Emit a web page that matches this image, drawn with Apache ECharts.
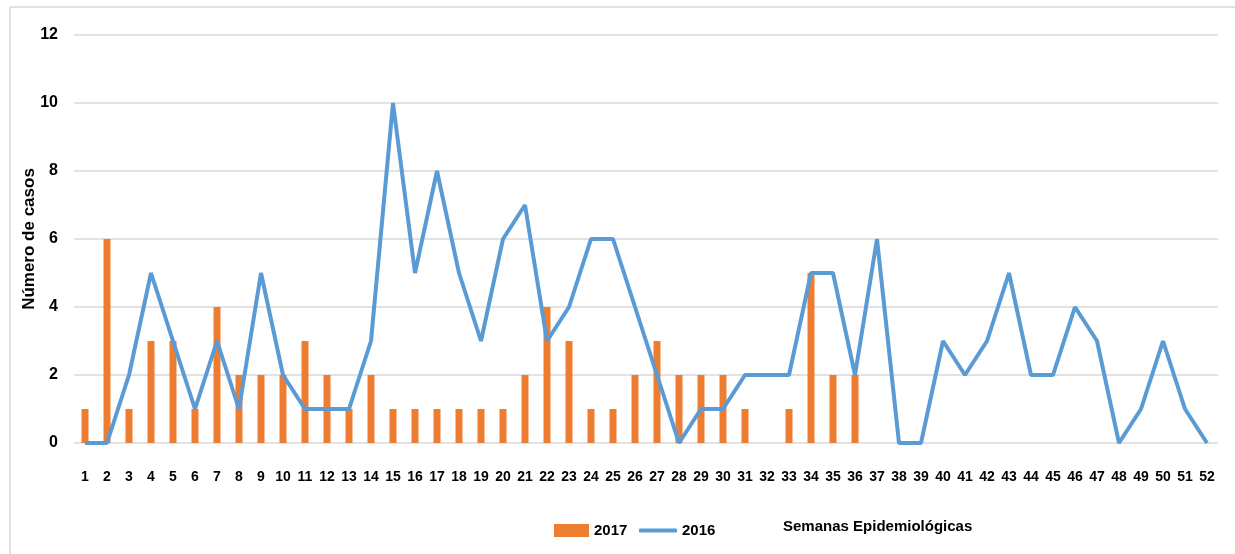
<!DOCTYPE html>
<html>
<head>
<meta charset="utf-8">
<script src="https://cdn.jsdelivr.net/npm/echarts@6/dist/echarts.min.js"></script>
<style>
  html, body { margin: 0; padding: 0; background: #fff; }
  #chart { width: 1235px; height: 554px; }
</style>
</head>
<body>
<div id="chart"></div>
<script>
const weeks = Array.from({ length: 52 }, (_, i) => String(i + 1))
const cases2017 = [1, 6, 1, 3, 3, 1, 4, 2, 2, 2, 3, 2, 1, 2, 1, 1, 1, 1, 1, 1,
  2, 4, 3, 1, 1, 2, 3, 2, 2, 2, 1, null, 1, 5, 2, 2]
const cases2016 = [0, 0, 2, 5, 3, 1, 3, 1, 5, 2, 1, 1, 1, 3, 10, 5, 8, 5, 3, 6,
  7, 3, 4, 6, 6, 4, 2, 0, 1, 1, 2, 2, 2, 5, 5, 2, 6, 0, 0, 3,
  2, 3, 5, 2, 2, 4, 3, 0, 1, 3, 1, 0]

const font = '"Liberation Sans", Arial, sans-serif'
const legendText = { fontFamily: font, fontWeight: 'bold', fontSize: 15, color: '#000' }

const chart = echarts.init(document.getElementById('chart'))
chart.setOption({
  animation: false,
  textStyle: { fontFamily: font },
  grid: { left: 74, right: 17, top: 35, bottom: 111, containLabel: false },
  legend: [
    {
      left: 549,
      top: 518,
      itemWidth: 35,
      itemHeight: 13,
      itemGap: 4,
      textStyle: legendText,
      data: [{ name: '2017', icon: 'rect' }]
    },
    {
      left: 634,
      top: 518,
      itemWidth: 38,
      itemHeight: 4,
      textStyle: legendText,
      data: [{ name: '2016', icon: 'roundRect' }]
    }
  ],
  title: {
    text: 'Semanas Epidemiológicas',
    left: 778,
    top: 514,
    textStyle: { fontFamily: font, fontWeight: 'bold', fontSize: 15, color: '#000' }
  },
  graphic: [
    { type: 'line', shape: { x1: 10, y1: 7, x2: 1235, y2: 7 }, style: { stroke: '#d9d9d9', lineWidth: 1.5 } },
    { type: 'line', shape: { x1: 10, y1: 7, x2: 10, y2: 554 }, style: { stroke: '#d9d9d9', lineWidth: 1.5 } }
  ],
  xAxis: {
    type: 'category',
    data: weeks,
    boundaryGap: true,
    axisLine: { show: false },
    axisTick: { show: false },
    axisLabel: {
      interval: 0,
      margin: 27,
      fontFamily: font,
      fontWeight: 'bold',
      fontSize: 14,
      color: '#000'
    }
  },
  yAxis: {
    type: 'value',
    min: 0,
    max: 12,
    interval: 2,
    name: 'Número de casos',
    nameLocation: 'middle',
    nameGap: 36,
    nameMoveOverlap: false,
    nameTextStyle: { fontFamily: font, fontWeight: 'bold', fontSize: 17, color: '#000' },
    axisLine: { show: false },
    axisTick: { show: false },
    axisLabel: {
      margin: 16,
      fontFamily: font,
      fontWeight: 'bold',
      fontSize: 16,
      color: '#000'
    },
    splitLine: { lineStyle: { color: '#d9d9d9', width: 1.5 } }
  },
  series: [
    {
      name: '2017',
      type: 'bar',
      data: cases2017,
      barWidth: 7,
      itemStyle: { color: '#ed7d31' }
    },
    {
      name: '2016',
      type: 'line',
      data: cases2016,
      symbol: 'none',
      lineStyle: { color: '#5b9bd5', width: 4 },
      itemStyle: { color: '#5b9bd5' }
    }
  ]
})
</script>
</body>
</html>
